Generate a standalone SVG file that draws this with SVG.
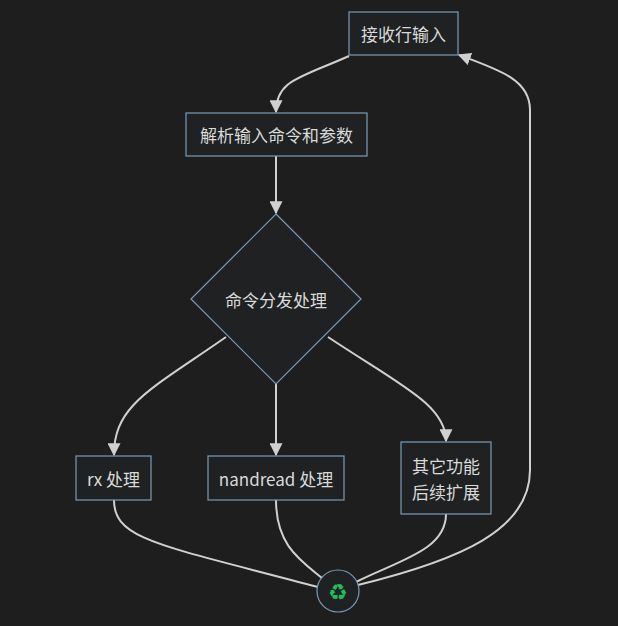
<svg xmlns="http://www.w3.org/2000/svg" width="618" height="626" viewBox="0 0 618 626">
<defs>
<marker id="ah" viewBox="0 0 10 10" refX="9" refY="5" markerWidth="13" markerHeight="13" orient="auto-start-reverse" markerUnits="userSpaceOnUse"><path d="M0,0 L10,5 L0,10 z" fill="#d0d0d0"/></marker>
<style>
.n{fill:#1f2122;stroke:#7b9bb6;stroke-width:1.2}
.t{font-family:"Noto Sans CJK SC","Liberation Sans",sans-serif;font-size:17px;fill:#dadada;text-anchor:middle;dominant-baseline:central}
.e{fill:none;stroke:#d0d0d0;stroke-width:2}
</style>
</defs>
<rect width="618" height="626" fill="#1e1e1e"/>
<g id="connectors">
<path class="e" d="M349,56 C300,78 276,80 276,112" marker-end="url(#ah)"/>
<path class="e" d="M276,156 L276,213" marker-end="url(#ah)"/>
<path class="e" d="M226,337 C150,390 114,405 114,455" marker-end="url(#ah)"/>
<path class="e" d="M276,384 L276,455" marker-end="url(#ah)"/>
<path class="e" d="M328,337 C400,385 446,405 446,441" marker-end="url(#ah)"/>
<path class="e" d="M114,500 C114,540 160,545 318,587"/>
<path class="e" d="M276,500 C276,545 300,560 322,578"/>
<path class="e" d="M446,514 C446,550 400,560 356,582"/>
<path class="e" d="M358,585 C460,560 530,530 530,470 L530,110 C530,80 500,70 459,55" marker-end="url(#ah)"/>
</g>
<g id="n1"><rect class="n" x="349" y="12" width="109" height="43"/><text class="t" x="403.5" y="33.5">接收行输入</text></g>
<g id="n2"><rect class="n" x="186" y="113" width="181" height="43"/><text class="t" x="276.5" y="134.5">解析输入命令和参数</text></g>
<g id="n3"><polygon class="n" points="276,214 361,299 276,384 191,299"/><text class="t" x="276" y="299">命令分发处理</text></g>
<g id="n4"><rect class="n" x="76" y="456" width="75" height="44"/><text class="t" x="113.5" y="478">rx 处理</text></g>
<g id="n5"><rect class="n" x="208" y="456" width="136" height="44"/><text class="t" x="276" y="478">nandread 处理</text></g>
<g id="n6"><rect class="n" x="401" y="442" width="90" height="72"/><text class="t" x="446" y="465">其它功能</text><text class="t" x="446" y="491">后续扩展</text></g>
<g id="n7"><circle class="n" cx="338" cy="591" r="21"/><text x="338" y="592" text-anchor="middle" dominant-baseline="central" font-family="DejaVu Sans,sans-serif" font-size="22" fill="#1fbf5f">♻</text></g>
</svg>
